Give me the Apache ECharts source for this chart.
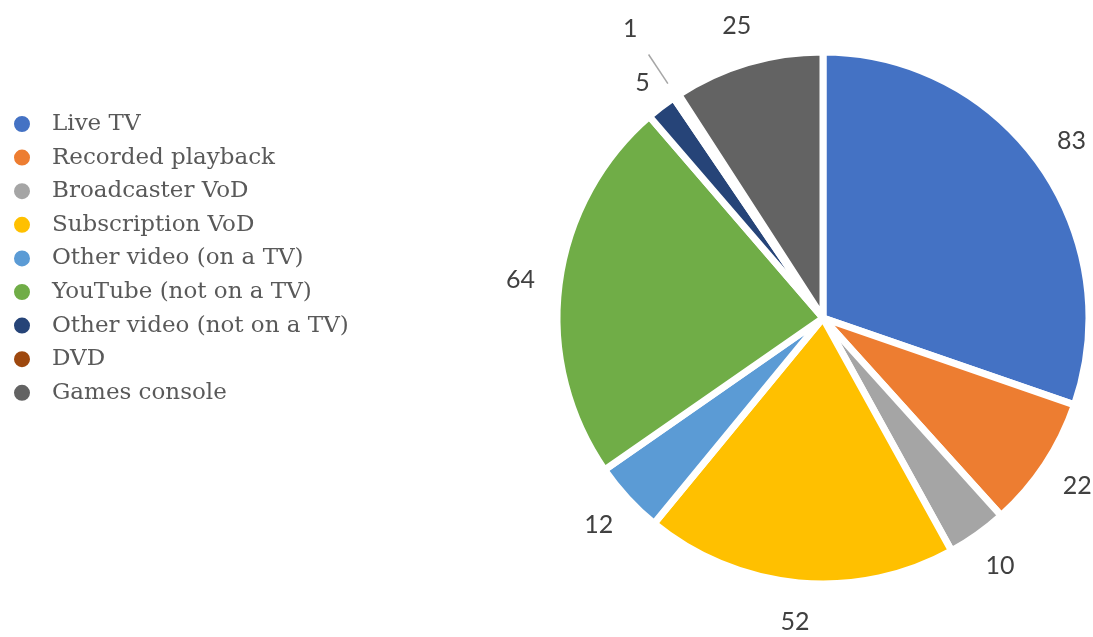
<!DOCTYPE html>
<html>
<head>
<meta charset="utf-8">
<style>
  html, body { margin: 0; padding: 0; background: #ffffff; }
  #chart { width: 1093px; height: 637px; }
</style>
<script src="https://cdn.jsdelivr.net/npm/echarts@6/dist/echarts.min.js"></script>
</head>
<body>
<div id="chart"></div>
<script>
// Viewing sources (minutes per day)
const categories = [
  'Live TV',
  'Recorded playback',
  'Broadcaster VoD',
  'Subscription VoD',
  'Other video (on a TV)',
  'YouTube (not on a TV)',
  'Other video (not on a TV)',
  'DVD',
  'Games console'
];
const values = [83, 22, 10, 52, 12, 64, 5, 1, 25];
const colors = ['#4472C4', '#ED7D31', '#A5A5A5', '#FFC000', '#5B9BD5', '#70AD47', '#264478', '#9E480E', '#636363'];

// Slices whose value label sits on a leader line instead of beside the slice
const leaderLabelled = ['DVD'];

// Small hand offsets for labels that would crowd their neighbours
const labelNudge = { 'Other video (not on a TV)': { dx: 5, dy: 7 } };

const LEGEND_FONT = 'DejaVu Serif';
const VALUE_FONT = 'Lato';
const CENTER = [823, 318];

const chart = echarts.init(document.getElementById('chart'), null, { renderer: 'canvas' });

const sliceData = categories.map((name, i) => ({
  name,
  value: values[i],
  itemStyle: { color: colors[i] }
}));

const labelData = categories.map((name, i) => ({
  name,
  value: values[i],
  label: { show: !leaderLabelled.includes(name) }
}));

const leaderData = categories.map((name, i) => ({
  name,
  value: values[i],
  label: { show: leaderLabelled.includes(name) },
  labelLine: { show: leaderLabelled.includes(name) }
}));

chart.setOption({
  backgroundColor: '#ffffff',
  animation: false,
  legend: {
    orient: 'vertical',
    left: 12,
    top: 112,
    padding: 0,
    icon: 'circle',
    itemWidth: 18,
    itemHeight: 18,
    itemGap: 9.6,
    data: categories,
    textStyle: {
      fontFamily: LEGEND_FONT,
      fontSize: 23,
      color: '#595959',
      lineHeight: 24,
      padding: [0, 0, 0, 16]
    }
  },
  series: [
    {
      // the pie itself
      type: 'pie',
      center: CENTER,
      radius: 266,
      startAngle: 90,
      clockwise: true,
      avoidLabelOverlap: false,
      label: { show: false },
      labelLine: { show: false },
      itemStyle: { borderColor: '#ffffff', borderWidth: 7 },
      emphasis: { disabled: true },
      data: sliceData
    },
    {
      // value labels ringed round the pie
      type: 'pie',
      center: CENTER,
      radius: [240, 364],
      startAngle: 90,
      clockwise: true,
      silent: true,
      avoidLabelOverlap: false,
      itemStyle: { color: 'rgba(0,0,0,0)', borderWidth: 0 },
      label: {
        show: true,
        position: 'inside',
        formatter: '{c}',
        fontFamily: VALUE_FONT,
        fontSize: 25,
        color: '#404040'
      },
      labelLine: { show: false },
      labelLayout: function (params) {
        const nudge = labelNudge[categories[params.dataIndex]];
        return nudge ? { dx: nudge.dx, dy: nudge.dy } : {};
      },
      emphasis: { disabled: true },
      data: labelData
    },
    {
      // leader-line label for the thinnest slice
      type: 'pie',
      center: CENTER,
      radius: 281,
      startAngle: 90,
      clockwise: true,
      silent: true,
      avoidLabelOverlap: false,
      itemStyle: { color: 'rgba(0,0,0,0)', borderWidth: 0 },
      label: {
        position: 'outside',
        distanceToLabelLine: 5,
        formatter: '{v|{c}}',
        rich: {
          v: {
            fontFamily: VALUE_FONT,
            fontSize: 25,
            color: '#404040',
            padding: [0, 6, 52, 0]
          }
        }
      },
      labelLine: {
        length: 35,
        length2: 0,
        lineStyle: { color: '#A6A6A6', width: 1.5 }
      },
      emphasis: { disabled: true },
      data: leaderData
    }
  ]
});
</script>
</body>
</html>
